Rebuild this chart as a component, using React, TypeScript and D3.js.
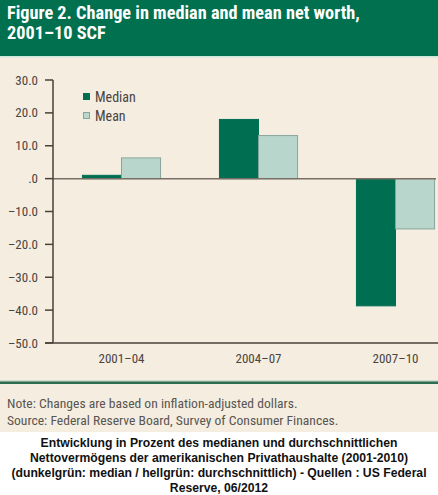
import { useEffect, useRef } from "react";
import * as d3 from "d3";

const categories = ["2001–04", "2004–07", "2007–10"];
const medianValues = [1.0, 18.0, -38.7];
const meanValues = [6.3, 13.1, -15.3];
const yTicks = [30, 20, 10, 0, -10, -20, -30, -40, -50];
const seriesNames = ["Median", "Mean"];

const titleLines = ["Figure 2. Change in median and mean net worth,", "2001–10 SCF"];
const noteLines = [
  "Note: Changes are based on inflation-adjusted dollars.",
  "Source: Federal Reserve Board, Survey of Consumer Finances.",
];
const captionLines = [
  "Entwicklung in Prozent des medianen und durchschnittlichen",
  "Nettovermögens der amerikanischen Privathaushalte (2001-2010)",
  "(dunkelgrün: median / hellgrün: durchschnittlich) - Quellen : US Federal",
  "Reserve, 06/2012",
];

const narrow = "'Liberation Sans Narrow', 'Arial Narrow', 'Roboto Condensed', sans-serif";

export default function App() {
  const svgRef = useRef(null);

  useEffect(() => {
    document.body.style.margin = "0";
    if (!svgRef.current) return;

    const width = 438;
    const height = 495;
    const axisX = 53;

    const svg = d3.select(svgRef.current);
    svg.selectAll("*").remove();
    svg.attr("width", width).attr("height", height).attr("viewBox", `0 0 ${width} ${height}`);

    // panel background
    svg.append("rect").attr("x", 0).attr("y", 0).attr("width", width).attr("height", 432).attr("fill", "#f4ede0");

    // header
    svg.append("rect").attr("x", 0).attr("y", 0).attr("width", width).attr("height", 56).attr("fill", "#00704f");
    svg.append("rect").attr("x", 0).attr("y", 56).attr("width", width).attr("height", 1.5).attr("fill", "#cfe6da");

    titleLines.forEach((t, i) => {
      svg
        .append("text")
        .attr("x", 7)
        .attr("y", 19 + i * 20)
        .attr("fill", "white")
        .attr("font-family", narrow)
        .attr("font-weight", "bold")
        .attr("font-size", "18.3px")
        .text(t);
    });

    const y = d3.scaleLinear().domain([-50, 30]).range([343, 80]);

    const x0 = d3
      .scaleBand()
      .domain(categories)
      .range([axisX, axisX + 411])
      .paddingInner(0.43)
      .paddingOuter(0.215);

    const x1 = d3.scaleBand().domain(seriesNames).range([0, x0.bandwidth()]);

    const fills = { Median: "#006f51", Mean: "#b8d6cc" };
    const strokes = { Median: "#006f51", Mean: "#87a69b" };

    // bars
    categories.forEach((c, i) => {
      const vals = [medianValues[i], meanValues[i]];
      seriesNames.forEach((s, j) => {
        const v = vals[j];
        svg
          .append("rect")
          .attr("x", x0(c)! + x1(s)!)
          .attr("y", y(Math.max(0, v)))
          .attr("width", x1.bandwidth())
          .attr("height", Math.abs(y(v) - y(0)))
          .attr("fill", fills[s])
          .attr("stroke", strokes[s])
          .attr("stroke-width", 1);
      });
    });

    // zero line
    svg
      .append("line")
      .attr("x1", axisX)
      .attr("x2", 436)
      .attr("y1", y(0))
      .attr("y2", y(0))
      .attr("stroke", "#7a6f66")
      .attr("stroke-width", 1.5);

    // y axis
    svg
      .append("line")
      .attr("x1", axisX)
      .attr("x2", axisX)
      .attr("y1", y(30))
      .attr("y2", y(-50))
      .attr("stroke", "#4a4038")
      .attr("stroke-width", 1.5);

    svg
      .append("line")
      .attr("x1", 45)
      .attr("x2", width)
      .attr("y1", y(-50))
      .attr("y2", y(-50))
      .attr("stroke", "#4a4038")
      .attr("stroke-width", 1.5);

    const fmt = (v: number) => (v === 0 ? ".0" : (v < 0 ? "–" : "") + Math.abs(v).toFixed(1));

    yTicks.forEach((t) => {
      svg
        .append("line")
        .attr("x1", 45)
        .attr("x2", axisX)
        .attr("y1", y(t))
        .attr("y2", y(t))
        .attr("stroke", "#4a4038")
        .attr("stroke-width", 1.5);
      svg
        .append("text")
        .attr("x", 38)
        .attr("y", y(t))
        .attr("dy", "0.35em")
        .attr("text-anchor", "end")
        .attr("fill", "#4a4440")
        .attr("font-family", narrow)
        .attr("font-size", "13px")
        .text(fmt(t));
    });

    categories.forEach((c) => {
      svg
        .append("text")
        .attr("x", x0(c)! + x0.bandwidth() / 2)
        .attr("y", 363)
        .attr("text-anchor", "middle")
        .attr("fill", "#4a4440")
        .attr("font-family", narrow)
        .attr("font-size", "13px")
        .text(c);
    });

    // legend
    seriesNames.forEach((s, i) => {
      svg
        .append("rect")
        .attr("x", 83.5)
        .attr("y", 93.5 + i * 19)
        .attr("width", 6)
        .attr("height", 6)
        .attr("fill", fills[s])
        .attr("stroke", strokes[s])
        .attr("stroke-width", 1);
      svg
        .append("text")
        .attr("x", 95)
        .attr("y", 97 + i * 19)
        .attr("dy", "0.35em")
        .attr("fill", "#4a4440")
        .attr("font-family", narrow)
        .attr("font-size", "14px")
        .text(s);
    });

    // footer rule and notes
    svg.append("rect").attr("x", 0).attr("y", 380.5).attr("width", width).attr("height", 1).attr("fill", "#a9cdb9");
    svg.append("rect").attr("x", 0).attr("y", 381.5).attr("width", width).attr("height", 2.5).attr("fill", "#2f6d52");

    noteLines.forEach((t, i) => {
      svg
        .append("text")
        .attr("x", 7)
        .attr("y", 408 + i * 17)
        .attr("fill", "#5a5550")
        .attr("font-family", narrow)
        .attr("font-size", "13.6px")
        .text(t);
    });

    captionLines.forEach((t, i) => {
      svg
        .append("text")
        .attr("x", width / 2)
        .attr("y", 447 + i * 15)
        .attr("text-anchor", "middle")
        .attr("fill", "#111")
        .attr("font-family", "'Liberation Sans', Arial, sans-serif")
        .attr("font-weight", "bold")
        .attr("font-size", "12.2px")
        .text(t);
    });
  }, []);

  return <svg ref={svgRef} style={{ display: "block" }} />;
}
